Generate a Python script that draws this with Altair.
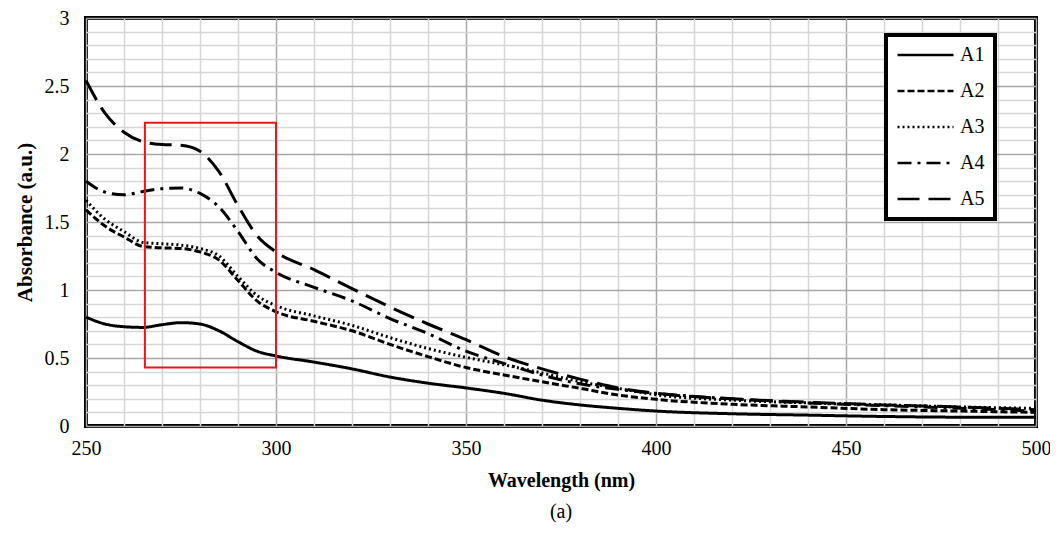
import altair as alt
import pandas as pd

# ---- data ----
wavelength = [250, 255, 260, 265, 270, 275, 280, 285, 290, 295, 300, 310, 320, 330,
              340, 350, 360, 370, 380, 390, 400, 420, 440, 460, 480, 500]
a1 = [0.80, 0.75, 0.73, 0.725, 0.745, 0.76, 0.75, 0.70, 0.62, 0.55, 0.515, 0.47, 0.42, 0.36,
      0.315, 0.28, 0.24, 0.19, 0.155, 0.13, 0.11, 0.09, 0.08, 0.07, 0.065, 0.065]
a2 = [1.59, 1.47, 1.39, 1.32, 1.31, 1.305, 1.28, 1.22, 1.07, 0.92, 0.84, 0.77, 0.70, 0.60,
      0.51, 0.43, 0.375, 0.325, 0.277, 0.228, 0.196, 0.16, 0.14, 0.12, 0.11, 0.10]
a3 = [1.66, 1.52, 1.43, 1.35, 1.34, 1.33, 1.305, 1.25, 1.10, 0.96, 0.885, 0.81, 0.74, 0.65,
      0.57, 0.505, 0.45, 0.39, 0.326, 0.277, 0.23, 0.19, 0.17, 0.155, 0.14, 0.13]
a4 = [1.80, 1.72, 1.70, 1.725, 1.745, 1.75, 1.71, 1.61, 1.43, 1.23, 1.13, 1.02, 0.92, 0.79,
      0.68, 0.55, 0.46, 0.375, 0.31, 0.27, 0.24, 0.20, 0.17, 0.15, 0.13, 0.11]
a5 = [2.54, 2.30, 2.16, 2.09, 2.07, 2.065, 2.02, 1.87, 1.62, 1.40, 1.28, 1.15, 1.01, 0.875,
      0.75, 0.635, 0.51, 0.42, 0.345, 0.28, 0.24, 0.20, 0.175, 0.155, 0.14, 0.12]

series_names = ["A1", "A2", "A3", "A4", "A5"]
dash_patterns = [[1, 0], [7, 3], [2, 3], [14, 6, 3, 6], [22, 9]]

x_ticks = list(range(250, 501, 10))
y_ticks = [round(i * 0.1, 1) for i in range(31)]

# highlight box (data coordinates)
box_wavelength = [265.5, 300]
box_absorbance = [0.43, 2.23]

rows = []
for name, vals in zip(series_names, [a1, a2, a3, a4, a5]):
    for w, v in zip(wavelength, vals):
        rows.append({"Wavelength": w, "Absorbance": v, "Sample": name})
df = pd.DataFrame(rows)

box_df = pd.DataFrame({
    "x1": [box_wavelength[0]], "x2": [box_wavelength[1]],
    "y1": [box_absorbance[0]], "y2": [box_absorbance[1]],
})

FONT = "Liberation Serif"

x_scale = alt.Scale(domain=[250, 500], nice=False, zero=False)
y_scale = alt.Scale(domain=[0, 3], nice=False)

x_axis = alt.Axis(
    values=x_ticks,
    tickCount=len(x_ticks),
    labelExpr="datum.value % 50 === 0 ? datum.label : ''",
    labelOverlap=False,
    labelFlush=False,
    grid=True,
    gridColor=alt.condition("datum.value % 50 === 0", alt.value("#a8a8a8"), alt.value("#d6d6d6")),
    gridWidth=1.5,
    ticks=False,
    domain=False,
    labelFont=FONT, labelFontSize=20, labelColor="black", labelPadding=12,
    titleFont=FONT, titleFontSize=20, titleFontWeight="bold", titleColor="black",
    titlePadding=12,
)
y_axis = alt.Axis(
    values=y_ticks,
    tickCount=len(y_ticks),
    labelExpr="round(datum.value * 10) % 5 === 0 ? format(datum.value, '~g') : ''",
    labelOverlap=False,
    labelFlush=False,
    grid=True,
    gridColor=alt.condition("round(datum.value * 10) % 5 === 0", alt.value("#a8a8a8"), alt.value("#d6d6d6")),
    gridWidth=1.5,
    ticks=False,
    domain=False,
    labelFont=FONT, labelFontSize=20, labelColor="black", labelPadding=17,
    titleFont=FONT, titleFontSize=21, titleFontWeight="bold", titleColor="black",
    titlePadding=9,
)

lines = alt.Chart(df).mark_line(strokeWidth=3, color="black", interpolate="monotone").encode(
    x=alt.X("Wavelength:Q", scale=x_scale, axis=x_axis, title="Wavelength (nm)"),
    y=alt.Y("Absorbance:Q", scale=y_scale, axis=y_axis, title="Absorbance (a.u.)"),
    strokeDash=alt.StrokeDash(
        "Sample:N",
        scale=alt.Scale(domain=series_names, range=dash_patterns),
        legend=alt.Legend(
            title=None, orient="none", legendX=800, legendY=17,
            symbolType="stroke", symbolSize=3136, symbolStrokeWidth=2.5,
            symbolStrokeColor="black",
            labelFont=FONT, labelFontSize=20, labelColor="black", labelOffset=5,
            padding=10, clipHeight=20, rowPadding=16,
            strokeColor="black", fillColor="white",
        ),
    ),
    order=alt.Order("Wavelength:Q"),
)

box = alt.Chart(box_df).mark_rect(fillOpacity=0, stroke="#e8171b", strokeWidth=2).encode(
    x=alt.X("x1:Q", scale=x_scale, title="Wavelength (nm)"),
    x2="x2:Q",
    y=alt.Y("y1:Q", scale=y_scale, title="Absorbance (a.u.)"),
    y2="y2:Q",
)

chart = alt.layer(lines, box).properties(
    width=950, height=408,
    autosize="none",
    padding={"left": 78, "top": 10, "right": 14, "bottom": 100},
    title=alt.TitleParams("(a)", orient="bottom", font=FONT, fontSize=20,
                          fontWeight="normal", color="black", offset=12),
    background="white",
).configure_view(
    stroke="black", strokeWidth=4
).configure_legend(
    strokeWidth=4
)

chart.save("out.html", embed_options={"renderer": "svg", "actions": False})
